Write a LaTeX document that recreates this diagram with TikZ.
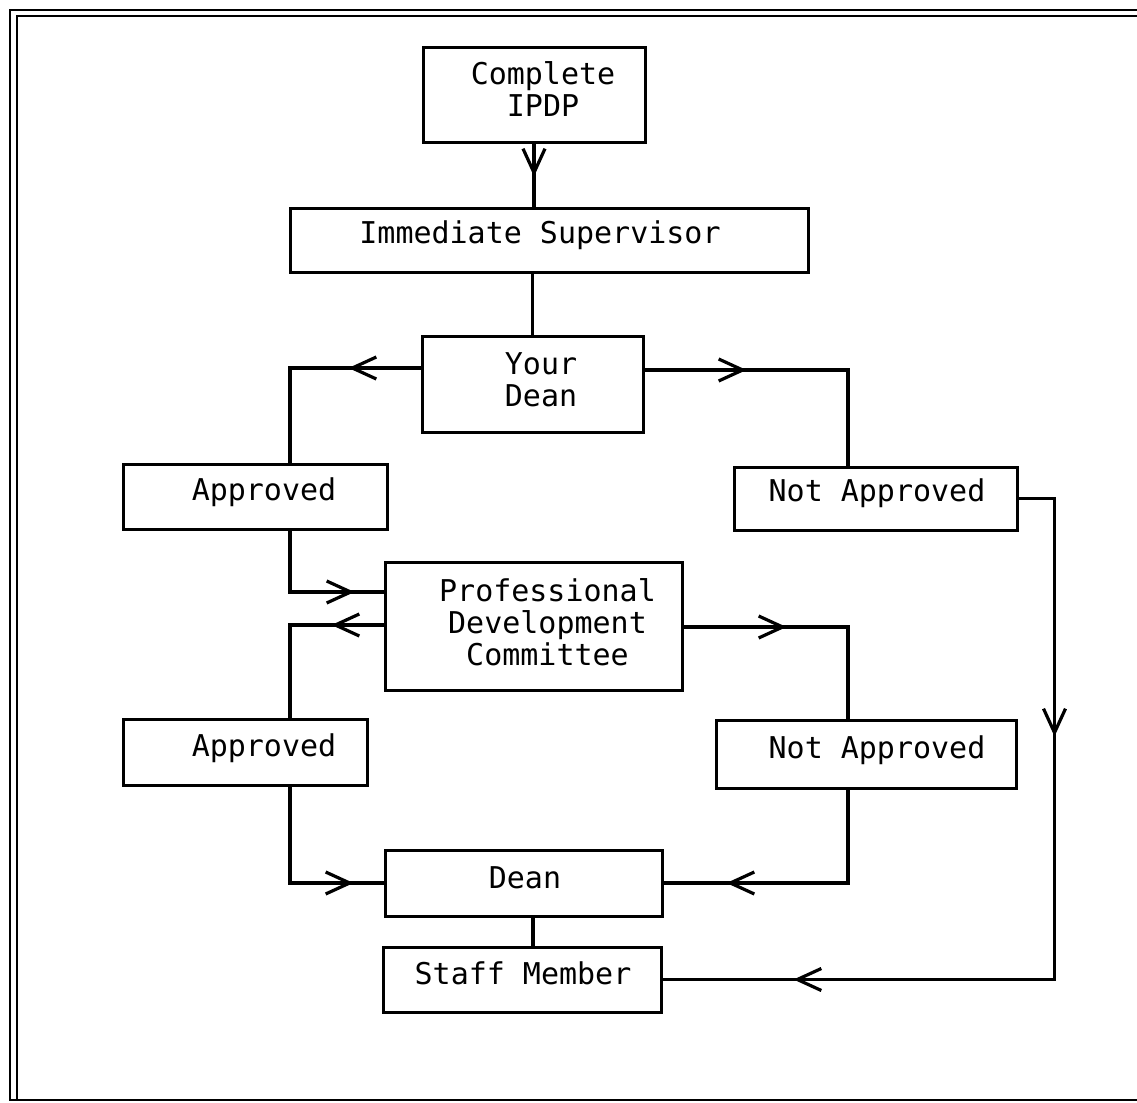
\documentclass[tikz,border=0pt]{standalone}
\usepackage{fontspec}
\setmonofont{DejaVu Sans Mono}
\usetikzlibrary{arrows.meta,decorations.markings,calc}

\tikzset{
  box/.style={draw, line width=1.5pt, rectangle, inner sep=0pt},
  txt/.style={font=\ttfamily\fontsize{15}{16}\selectfont, align=center, inner sep=0pt},
  flow/.style={line width=1.6pt, line join=miter},
  frame/.style={line width=1pt},
  tipat/.style={postaction={decorate, decoration={markings,
      mark=at position #1 with {\arrow{Straight Barb[length=12pt,width=11pt]}}}}},
}

\begin{document}
\begin{tikzpicture}[x=0.5pt, y=-0.5pt]
  \useasboundingbox (0,0) rectangle (1137,1103);

  % page frame
  \draw[frame] (1137,10) -- (10,10) -- (10,1100) -- (1137,1100);
  \draw[frame] (1137,16) -- (17,16) -- (17,1100);

  % boxes
  \node[box, minimum width=111pt, minimum height=47.5pt,
        label={[txt, name=cip-t, xshift=4.5pt, yshift=2.75pt]center:Complete\\IPDP}]
        (cip) at (534,94.5) {};
  \node[box, minimum width=259pt, minimum height=32pt,
        label={[txt, name=imm-t, xshift=-4.5pt, yshift=2.5pt]center:Immediate Supervisor}]
        (imm) at (549,240) {};
  \node[box, minimum width=110.5pt, minimum height=48pt,
        label={[txt, name=yd-t, xshift=4.25pt, yshift=2.25pt]center:Your\\Dean}]
        (yd) at (532.5,384) {};
  \node[box, minimum width=132pt, minimum height=32.5pt,
        label={[txt, name=ap1-t, xshift=4.5pt, yshift=2.25pt]center:Approved}]
        (ap1) at (255,496.5) {};
  \node[box, minimum width=141.5pt, minimum height=31.5pt,
        label={[txt, name=na1-t, xshift=0.75pt, yshift=2.75pt]center:Not Approved}]
        (na1) at (875.5,498.5) {};
  \node[box, minimum width=148.5pt, minimum height=64pt,
        label={[txt, name=pdc-t, xshift=7pt, yshift=2pt]center:Professional\\Development\\Committee}]
        (pdc) at (533.5,626) {};
  \node[box, minimum width=122pt, minimum height=33pt,
        label={[txt, name=ap2-t, xshift=9.5pt, yshift=2pt]center:Approved}]
        (ap2) at (245,752) {};
  \node[box, minimum width=150pt, minimum height=34pt,
        label={[txt, name=na2-t, xshift=5.5pt, yshift=2pt]center:Not Approved}]
        (na2) at (866,754) {};
  \node[box, minimum width=138.5pt, minimum height=33pt,
        label={[txt, name=dean-t, xshift=0.75pt, yshift=2.5pt]center:Dean}]
        (dean) at (523.5,883) {};
  \node[box, minimum width=139pt, minimum height=32.5pt,
        label={[txt, name=staff-t, xshift=0.5pt, yshift=3.25pt]center:Staff Member}]
        (staff) at (522,979.5) {};

  % connectors
  \draw[flow, tipat=16.5pt] (cip.south) -- (cip.south |- imm.north);
  \draw[flow] (yd.north |- imm.south) -- (yd.north);
  \draw[flow, tipat=36pt] ([yshift=8pt]yd.west) -| ([xshift=17.5pt]ap1.north);
  \draw[flow, tipat=51pt] ([yshift=7pt]yd.east) -| ([xshift=-13.75pt]na1.north);
  \draw[flow, tipat=137pt, tipat=389pt]
        (na1.east) -- ([xshift=18pt]na1.east) |- (staff.east);
  \draw[flow, tipat=63pt] ([xshift=17.5pt]ap1.south) |- ([yshift=17pt]pdc.west);
  \draw[flow, tipat=26pt] ([yshift=0.5pt]pdc.west) -| ([xshift=22.5pt]ap2.north);
  \draw[flow, tipat=51.5pt] ([yshift=-0.5pt]pdc.east) -| ([xshift=-9pt]na2.north);
  \draw[flow, tipat=80pt] ([xshift=22.5pt]ap2.south) |- (dean.west);
  \draw[flow, tipat=107.5pt] ([xshift=-9pt]na2.south) |- (dean.east);
  \draw[flow] ([xshift=4.75pt]dean.south) -- ([xshift=4.75pt]dean.south |- staff.north);
\end{tikzpicture}
\end{document}
